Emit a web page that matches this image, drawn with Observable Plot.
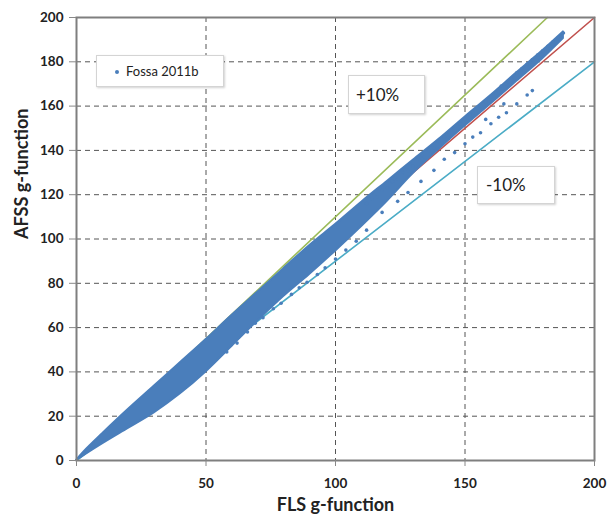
<!DOCTYPE html>
<html><head><meta charset="utf-8">
<script src="https://cdn.jsdelivr.net/npm/d3@7"></script>
<script src="https://cdn.jsdelivr.net/npm/@observablehq/plot@0.6"></script>
<style>
body{margin:0;background:#fff;font-family:Lato,"Open Sans",sans-serif;}
#wrap{position:relative;width:607px;height:522px;}
.box{position:absolute;background:#fff;border:1px solid #d4d4d4;box-shadow:1px 1px 2px rgba(0,0,0,0.18);color:#222;}
</style></head><body><div id="wrap"></div>
<script>
// ---- data ----
const xTicks=[0,50,100,150,200];
const yTicks=[0,20,40,60,80,100,120,140,160,180,200];
const xGrid=[50,100,150];
const yGrid=[20,40,60,80,100,120,140,160,180];
const xLabel="FLS g-function";
const yLabel="AFSS g-function";
const seriesName="Fossa 2011b";
// dense cloud envelope
const cloudX =[0, 3, 10, 20, 30, 40, 50, 60, 70, 80, 90, 100, 110, 120, 130, 140, 150, 160, 170, 180, 188];
const cloudLo=[0, 2.3, 7.5, 14.5, 21.5, 30, 40, 51.5, 63, 74, 84, 94.5, 105.5, 117, 129.5, 140.5, 151, 161, 171.2, 181.4, 190.5];
const cloudHi=[0, 4, 12, 23, 33.5, 44, 54.5, 65.5, 76, 86.5, 97, 106.5, 116.5, 126, 135.5, 145, 155, 164.8, 175, 185, 193.5];
// individual points
const dotX=[112,114,116,118,120,122,124,126,128,130,132,134,136,138,140,142,144,146,148,150,152,154,156,158,160,162,164,166,168,170,172,174,176,178,180,182,184,186,188,
 118,124,128,133,138,142,146,150,153,156,160,163,166,170,174,176,165,158,
 58,62,66,69,72,76,79,83,86,89,93,96,100,104,108,112];
const dotY=[116,118,119,122,123,126,127,130,131,133,136,137,140,141,144,146,147,150,152,154,156,158,160,162,164,166,169,170,172,175,177,179,181,183,185,187,189,191,193,
 112,117,121,126,131,136,139,143,146,148,152,155,157,161,165,167,161,154,
 49,53,58,62,64.5,68.5,71,75,78,80.5,84,87,91,95,99,104];
// reference lines
const eqX=[0,200], eqY=[0,200];
const plusX=[0,181.8], plusY=[0,200];
const minusX=[0,200], minusY=[0,180];

const blue="#4a7ebb";
const cloud=cloudX.map((x,i)=>({x,lo:cloudLo[i],hi:cloudHi[i]}));
const dots=dotX.map((x,i)=>({x,y:dotY[i]}));
const ln=(X,Y)=>X.map((x,i)=>({x,y:Y[i]}));

const chart=Plot.plot({
  width:607,height:522,
  marginLeft:76,marginRight:13,marginTop:17,marginBottom:62,
  style:{fontFamily:"Lato, 'Open Sans', sans-serif",background:"#fff"},
  x:{domain:[0,200]},
  y:{domain:[0,200]},
  marks:[
    Plot.ruleX(xGrid,{stroke:"#555",strokeWidth:1,strokeDasharray:"5,4"}),
    Plot.ruleY(yGrid,{stroke:"#555",strokeWidth:1,strokeDasharray:"5,4"}),
    Plot.line(ln(eqX,eqY),{x:"x",y:"y",stroke:"#c0504d",strokeWidth:1.6}),
    Plot.line(ln(plusX,plusY),{x:"x",y:"y",stroke:"#9bbb59",strokeWidth:1.6}),
    Plot.line(ln(minusX,minusY),{x:"x",y:"y",stroke:"#4bacc6",strokeWidth:1.6}),
    Plot.areaY(cloud,{x:"x",y1:"lo",y2:"hi",fill:blue,stroke:blue,strokeWidth:2,curve:"catmull-rom"}),
    Plot.dot(dots,{x:"x",y:"y",r:1.8,fill:blue}),
    Plot.frame({stroke:"#7f7f7f",strokeWidth:2}),
    Plot.axisX({ticks:xTicks,tickSize:6,tickPadding:12,stroke:"#888",fontSize:13.5,fontWeight:"bold",fill:"#222",label:null,tickFormat:d=>String(d)}),
    Plot.axisY({ticks:yTicks,tickSize:7,tickPadding:6,stroke:"#888",fontSize:13.5,fontWeight:"bold",fill:"#222",label:null,tickFormat:d=>String(d)}),
    Plot.text([xLabel],{frameAnchor:"bottom",dy:50,fontSize:18,fontWeight:"bold",fill:"#222"}),
    Plot.text([yLabel],{frameAnchor:"left",rotate:-90,dx:-54,fontSize:18,fontWeight:"bold",fill:"#222"})
  ]
});
const wrap=document.getElementById("wrap");
wrap.appendChild(chart);

function box(html,l,t,w,h,fs){
  const d=document.createElement("div");
  d.className="box";
  d.style.cssText+=`left:${l}px;top:${t}px;width:${w}px;height:${h}px;font-size:${fs}px;line-height:${h}px;`;
  d.innerHTML=html;wrap.appendChild(d);
}
box(`<span style="display:inline-block;width:4px;height:4px;border-radius:2px;background:${blue};margin:0 7px 2px 18px;vertical-align:middle"></span>${seriesName}`,96,55,126,30,13);
box(`<span style="margin-left:7px">+10%</span>`,348,75,75,37,17);
box(`<span style="margin-left:8px">-10%</span>`,477,166,76,36,17);
</script></body></html>
